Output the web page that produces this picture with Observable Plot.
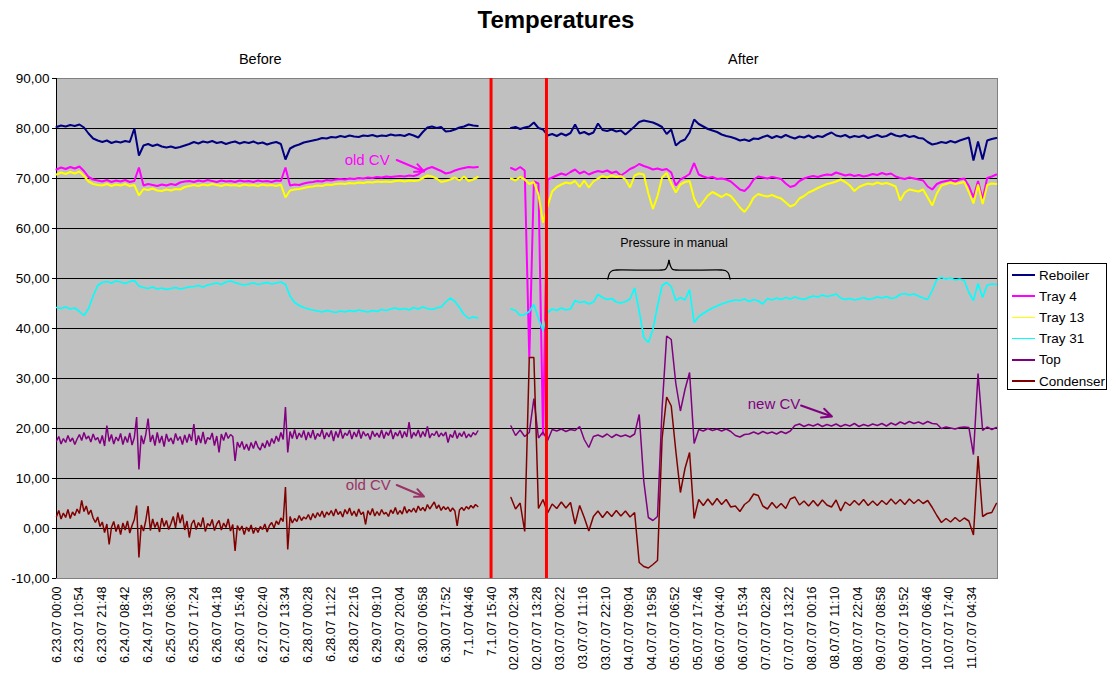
<!DOCTYPE html>
<html><head><meta charset="utf-8">
<script src="https://cdn.jsdelivr.net/npm/d3@7"></script>
<script src="https://cdn.jsdelivr.net/npm/@observablehq/plot@0.6"></script>
<style>
body{margin:0;background:#fff;font-family:"Liberation Sans",Arial,sans-serif;}
#wrap{position:relative;width:1112px;height:680px;overflow:hidden;}
#title{height:38px;line-height:40px;text-align:center;font-weight:bold;font-size:24px;color:#000;}
#legend{position:absolute;left:1007px;top:263px;width:100px;height:127px;border:1px solid #000;background:#fff;box-sizing:border-box;padding-top:0.5px;}
.row{height:21.2px;display:flex;align-items:center;font-size:13.5px;color:#000;white-space:nowrap;}
.sw{width:23px;height:1.6px;margin:0 4px 0 4px;}
</style></head>
<body><div id="wrap"><div id="title">Temperatures</div><div id="chart"></div><div id="legend"></div></div>
<script>
const seriesNames = ["Reboiler","Tray 4","Tray 13","Tray 31","Top","Condenser"];
const seriesColors = ["#000080","#FF00FF","#FFFF00","#00FFFF","#800080","#800000"];
const xLabels = ["6.23.07 00:00","6.23.07 10:54","6.23.07 21:48","6.24.07 08:42","6.24.07 19:36","6.25.07 06:30","6.25.07 17:24","6.26.07 04:18","6.26.07 15:46","6.27.07 02:40","6.27.07 13:34","6.28.07 00:28","6.28.07 11:22","6.28.07 22:16","6.29.07 09:10","6.29.07 20:04","6.30.07 06:58","6.30.07 17:52","7.1.07 04:46","7.1.07 15:40",
"02.07.07 02:34","02.07.07 13:28","03.07.07 00:22","03.07.07 11:16","03.07.07 22:10","04.07.07 09:04","04.07.07 19:58","05.07.07 06:52","05.07.07 17:46","06.07.07 04:40","06.07.07 15:34","07.07.07 02:28","07.07.07 13:22","08.07.07 00:16","08.07.07 11:10","08.07.07 22:04","09.07.07 08:58","09.07.07 19:52","10.07.07 06:46","10.07.07 17:40","11.07.07 04:34"];
const yTicks = [-10,0,10,20,30,40,50,60,70,80,90];
const periodLabels = [{x:8.9,label:"Before"},{x:30.0,label:"After"}];
const periodMarkers = [18.98, 21.40];

// x position in units of label intervals
const beforeStart = 0, afterStart = 19.85, stepCoarse = 0.2, stepFine = 0.1;

const reboilerBefore = [80.3,80.6,80.4,80.7,80.5,80.8,80.2,79.0,78.0,77.6,
77.3,77.6,77.1,77.4,77.2,77.5,77.3,80.0,74.6,76.6,
76.9,76.5,76.8,76.4,76.2,76.4,76.1,76.3,76.6,76.9,
77.3,77.0,77.4,77.2,77.5,77.1,77.3,76.9,77.2,77.4,
77.0,77.3,77.1,77.4,77.0,77.2,76.8,77.1,77.3,76.9,
73.8,76.0,76.5,76.8,77.2,77.4,77.6,77.8,78.1,78.0,
78.3,78.2,78.5,78.3,78.6,78.4,78.3,78.6,78.5,78.7,
78.4,78.6,78.5,78.8,78.6,78.7,78.5,78.9,78.6,78.2,
79.3,80.2,80.4,80.1,80.3,79.4,79.5,79.8,80.2,80.4,
80.8,80.6,80.5];
const tray4Before = [71.8,72.2,71.9,72.3,72.0,72.4,71.5,70.3,69.8,69.6,
69.4,69.7,69.3,69.6,69.4,69.7,69.3,69.5,72.2,68.6,
68.9,68.7,68.5,68.8,68.6,68.9,68.7,69.2,69.4,69.5,
69.3,69.6,69.4,69.7,69.5,69.3,69.6,69.4,69.5,69.3,
69.6,69.4,69.5,69.3,69.6,69.4,69.5,69.3,69.6,69.5,
72.2,68.6,68.8,68.7,69.0,69.2,69.3,69.5,69.4,69.7,
69.6,69.8,69.9,69.8,70.0,69.9,70.1,70.0,70.2,70.1,
70.3,70.2,70.4,70.3,70.4,70.5,70.4,70.6,70.5,70.8,
71.5,72.0,72.3,71.9,71.5,71.0,71.2,71.6,71.9,72.1,
72.3,72.2,72.3];
const tray13Before = [70.8,71.2,70.9,71.3,71.0,71.4,70.5,69.4,68.9,68.7,
68.6,68.9,68.5,68.8,68.6,68.9,68.5,68.7,66.6,67.9,
67.7,68.0,67.6,67.5,67.8,67.6,67.9,67.8,68.3,68.5,
68.7,68.5,68.8,68.6,68.9,68.7,68.5,68.8,68.6,68.7,
68.5,68.8,68.6,68.7,68.5,68.8,68.6,68.7,68.5,68.8,
66.2,67.6,67.8,67.9,68.1,68.3,68.4,68.6,68.5,68.8,
68.7,68.9,69.0,68.9,69.1,69.0,69.2,69.1,69.3,69.2,
69.4,69.3,69.4,69.3,69.5,69.6,69.4,69.6,69.5,69.6,
70.1,70.6,70.4,70.0,69.3,69.5,69.8,70.2,69.6,70.4,
69.5,69.8,70.3];
const tray31Before = [44.2,44.0,44.3,43.9,44.1,43.4,42.6,44.0,46.5,48.6,
49.2,49.4,49.1,49.5,49.3,49.0,49.4,49.6,48.5,48.2,
48.0,48.3,47.9,48.1,47.8,48.0,48.2,47.9,48.1,48.3,
48.4,48.6,48.3,48.7,48.9,49.1,48.8,49.3,49.5,49.2,
48.9,48.7,48.9,49.1,48.8,49.0,49.2,48.9,49.1,49.3,
48.8,46.5,45.2,44.6,44.2,43.9,43.7,43.5,43.3,43.6,
43.4,43.2,43.5,43.3,43.6,43.4,43.7,43.5,43.3,43.6,
43.4,43.8,43.6,43.9,44.1,43.8,44.0,43.7,44.2,43.9,
44.3,44.0,43.8,44.1,44.3,45.3,46.1,45.4,44.2,42.8,
42.0,42.3,42.1];
const topBefore = [17.5,18.4,16.9,18.0,17.2,18.6,17.4,18.1,16.8,17.9,
18.8,17.6,19.2,17.9,18.5,17.3,18.9,17.7,18.2,17.0,
18.6,16.5,20.6,17.4,18.8,16.9,18.3,17.5,19.0,16.8,
18.4,17.2,19.1,16.7,18.2,22.3,11.8,18.6,16.9,18.8,
22.0,17.3,18.7,16.6,19.2,17.1,18.5,16.4,18.9,17.4,
18.1,16.9,19.0,17.6,18.4,16.8,18.7,17.2,18.9,17.5,
20.9,16.7,18.6,17.1,19.3,16.9,18.2,17.8,19.1,16.6,
18.5,15.2,18.9,17.6,19.2,18.0,18.8,18.4,13.5,17.3,
16.2,17.4,15.8,16.9,15.6,17.2,16.0,17.5,16.3,15.7,
17.1,16.1,17.6,16.4,18.0,17.0,18.5,17.4,19.2,17.8,
24.3,15.2,19.4,18.0,19.8,17.9,19.1,18.2,19.6,17.7,
19.3,18.1,19.7,17.8,19.0,18.4,19.8,17.9,19.2,18.3,
19.6,17.5,19.4,18.2,19.9,18.0,19.1,18.6,19.7,17.9,
19.3,18.3,19.8,18.0,19.4,18.5,19.0,17.8,19.5,18.4,
19.1,18.2,19.7,18.0,19.3,18.6,19.8,17.9,19.2,18.5,
19.6,18.1,19.4,18.3,21.3,18.0,19.2,18.5,19.7,18.2,
19.4,18.4,20.4,18.1,19.0,18.6,19.5,18.3,19.1,18.5,
19.3,17.2,18.8,18.2,19.6,18.0,19.1,18.4,19.4,18.1,
18.9,18.3,19.2,18.7,19.5];
const condenserBefore = [2.4,3.6,1.9,3.1,2.2,3.8,2.0,3.3,2.6,3.9,
3.0,5.6,3.4,4.5,2.8,3.7,2.1,1.2,2.3,0.4,
1.3,-0.8,0.9,-3.2,0.2,1.4,-0.6,0.8,-1.2,1.1,
-0.3,1.5,-0.9,0.6,1.8,4.6,-5.8,0.7,-0.5,1.6,
4.5,-0.4,1.9,0.2,1.3,-0.7,2.1,0.4,1.6,-0.2,
1.0,2.4,0.1,3.2,1.1,2.8,-0.3,1.5,-1.8,0.9,
1.7,-0.2,1.2,0.3,2.2,-0.6,1.0,0.5,1.8,-0.4,
0.9,1.6,-0.3,1.1,0.2,1.9,-0.5,0.8,-4.5,0.6,
-0.4,0.5,-1.2,0.3,-0.6,0.7,-1.0,0.2,-0.8,0.4,
-0.2,0.9,-0.7,0.6,1.2,0.1,1.5,0.8,2.1,1.4,
8.3,-4.2,2.4,1.1,2.0,1.4,2.6,1.6,2.3,1.9,
2.8,1.7,3.0,2.1,3.2,2.4,3.5,2.2,3.3,2.7,
3.6,2.5,3.9,2.8,3.4,2.3,3.8,2.9,4.1,2.6,
3.5,2.4,3.9,2.8,3.3,0.8,3.6,2.7,4.0,2.5,
3.4,2.6,3.8,2.9,3.2,2.4,3.7,3.0,4.2,2.8,
3.6,2.9,4.4,3.1,3.8,3.3,4.1,3.2,4.5,3.6,
4.2,3.5,4.8,3.9,4.6,5.3,4.0,4.7,3.6,4.4,
3.8,4.3,3.4,4.1,3.5,0.5,3.7,4.2,3.6,4.4,
3.9,4.6,4.1,4.8,4.4];

const reboilerAfter = [80.1,80.3,79.9,80.2,80.4,81.2,80.1,79.8,78.6,78.9,
78.5,79.0,78.6,79.1,80.8,79.0,79.3,78.8,79.2,81.0,
79.7,79.5,79.8,79.4,79.6,78.8,79.6,80.4,81.3,81.6,
81.4,81.2,80.8,80.3,78.9,79.8,76.6,77.4,77.8,79.2,
81.8,80.9,80.4,79.9,79.6,79.3,78.8,78.5,78.3,78.0,
77.6,77.8,77.5,78.0,77.9,78.3,78.6,78.1,78.5,78.2,
78.7,78.3,78.0,78.4,78.2,78.6,78.1,78.5,78.3,78.8,
79.2,78.6,78.4,78.7,78.2,78.5,78.3,78.6,78.1,78.4,
78.7,78.3,78.5,79.0,78.6,78.4,78.7,78.3,78.5,78.1,
78.0,77.3,76.8,77.0,77.3,77.1,77.5,77.2,77.6,77.9,
78.2,73.6,77.4,73.8,77.6,77.9,78.1];
const tray4After = [72.1,71.7,72.3,71.6,34.0,69.4,69.0,18.6,69.8,70.2,
70.6,71.0,70.7,71.3,71.8,71.0,71.4,70.8,71.2,71.5,
71.3,71.6,71.1,71.4,70.6,71.2,71.9,72.3,72.9,72.5,
72.2,71.8,72.0,71.7,71.9,71.2,68.6,69.8,70.3,70.9,
73.1,70.8,70.4,70.1,70.3,69.9,70.0,69.8,69.4,68.6,
67.8,67.5,68.4,69.8,70.4,70.2,70.0,70.3,70.1,69.9,
69.0,68.3,68.6,69.5,70.0,70.3,70.5,70.3,70.6,70.8,
70.7,71.2,70.9,70.6,70.8,70.5,70.7,70.4,70.6,70.9,
70.7,71.1,70.8,71.0,70.4,70.1,69.9,70.2,70.0,69.8,
69.6,68.4,67.8,68.9,69.3,69.5,69.7,69.4,69.8,70.0,
68.5,66.2,69.5,65.8,70.1,70.4,70.8];
const tray13After = [70.0,69.6,70.3,69.8,68.9,69.3,66.8,61.2,64.5,67.4,
68.3,68.8,69.2,69.0,69.5,68.3,69.6,68.2,69.4,70.0,
70.5,70.2,70.6,70.3,70.5,69.8,68.2,70.6,71.0,70.8,
67.0,63.9,66.5,70.2,71.1,69.0,67.2,68.8,69.3,69.5,
66.0,64.2,65.4,66.6,67.3,66.8,66.3,66.9,66.5,65.4,
64.2,63.3,64.5,66.2,66.9,66.6,66.4,66.7,66.3,66.0,
65.2,64.4,64.8,66.0,66.5,67.2,67.6,68.1,68.5,68.9,
69.1,69.4,69.8,69.3,68.6,67.5,68.3,68.7,69.0,68.8,
69.2,68.9,69.1,68.8,68.4,65.6,67.2,67.8,67.6,67.4,
67.8,66.2,64.6,67.0,68.6,68.9,69.2,68.9,69.1,69.3,
67.3,65.0,68.8,64.9,68.7,69.0,68.9];
const tray31After = [43.9,43.6,42.6,42.8,43.4,44.8,42.0,39.6,43.2,43.9,
43.6,44.1,43.7,43.9,45.6,45.2,45.4,44.9,45.3,46.8,
46.2,45.8,46.0,45.3,45.1,45.4,45.9,48.1,43.5,38.2,
37.2,39.8,44.5,48.6,49.2,48.4,45.6,46.2,45.7,47.8,
41.2,42.4,43.0,43.6,44.1,44.5,44.9,45.2,45.5,45.7,
45.6,45.9,45.4,45.8,45.5,44.9,46.0,45.7,46.1,45.8,
46.2,45.9,46.3,46.0,45.8,46.2,46.5,46.3,46.7,46.4,
46.6,46.9,46.1,45.8,46.0,45.7,45.9,46.2,45.8,46.0,
46.3,46.1,46.4,46.0,46.2,46.8,47.0,46.7,46.9,46.5,
46.1,45.8,47.6,49.8,50.2,49.9,50.1,49.7,49.9,49.6,
47.2,45.6,49.0,46.2,48.7,48.9,48.8];
const topAfter = [20.5,18.6,19.7,18.4,19.2,26.0,18.1,19.3,17.6,19.8,
19.5,19.9,19.4,19.8,19.6,20.4,17.8,16.2,18.4,18.7,
18.3,18.9,18.2,18.8,18.4,18.7,18.3,18.9,22.8,9.5,
2.2,1.6,2.4,24.0,38.5,37.8,29.0,23.5,27.8,31.2,
17.0,19.8,19.5,20.0,19.6,19.9,19.5,19.9,19.4,18.6,
18.3,18.8,18.9,19.3,18.9,19.4,19.0,19.3,18.9,19.4,
19.0,19.5,20.6,20.9,20.4,20.8,20.5,20.9,20.4,20.8,
20.5,20.9,20.4,20.8,20.5,21.0,20.4,20.8,20.5,20.9,
20.6,21.0,20.5,21.1,20.7,21.3,20.9,21.4,21.0,21.3,
20.9,21.4,21.0,20.9,20.0,20.3,20.1,19.9,20.2,20.3,
20.2,14.8,31.0,19.6,20.3,19.8,20.2];
const condenserAfter = [6.2,3.9,5.1,-0.6,34.2,34.2,4.0,5.8,3.1,4.9,
4.0,5.3,4.1,5.2,0.9,4.6,2.2,-0.5,2.4,3.5,
2.2,3.4,2.4,3.6,2.5,3.5,2.3,3.2,-6.8,-7.6,
-7.9,-7.2,-6.4,18.0,26.3,24.5,15.5,7.2,12.0,15.2,
2.0,5.8,4.6,5.9,4.7,6.0,4.8,5.8,4.3,4.5,
3.4,4.8,5.5,6.9,6.6,4.5,3.9,5.2,4.1,5.0,
4.0,5.9,6.3,4.7,5.5,4.5,5.6,4.5,5.7,4.7,
4.3,5.7,3.5,5.3,4.6,5.6,4.7,5.8,4.6,5.5,
4.6,5.6,4.8,5.9,4.9,5.8,4.8,5.9,5.0,5.8,
5.0,5.6,4.2,2.6,1.2,2.0,1.3,2.2,1.4,2.1,
1.5,-1.3,14.5,2.4,3.0,3.2,5.0];

const notesCV = [
  {text:"old CV", x:13.57, y:73.6, color:"#FF00FF"},
  {text:"old CV", x:13.62, y:8.7, color:"#993366"},
  {text:"new CV", x:31.34, y:24.8, color:"#800080"}
];
const noteArrows = [
  {x1:14.86, y1:73.7, x2:16.05, y2:71.4, color:"#FF00FF"},
  {x1:14.86, y1:8.7, x2:16.05, y2:6.4, color:"#993366"},
  {x1:32.52, y1:24.6, x2:33.87, y2:22.4, color:"#800080"}
];
const pressureNote = [{text:"Pressure in manual", x:26.97, y:57.1}];
const braceLeft = [[24.08,49.9],[24.16,51.1],[24.29,51.6],[24.45,51.7],[26.45,51.7],[26.6,51.85],[26.69,52.6],[26.75,53.6]];
const braceRight = braceLeft.map(([x,y]) => [53.5 - x, y]);

function seg(values, start, step, part) {
  return values.map((v, i) => ({x: start + i * step, y: v, part}));
}
const seriesData = [
  seg(reboilerBefore, beforeStart, stepCoarse, "b").concat(seg(reboilerAfter, afterStart, stepCoarse, "a")),
  seg(tray4Before, beforeStart, stepCoarse, "b").concat(seg(tray4After, afterStart, stepCoarse, "a")),
  seg(tray13Before, beforeStart, stepCoarse, "b").concat(seg(tray13After, afterStart, stepCoarse, "a")),
  seg(tray31Before, beforeStart, stepCoarse, "b").concat(seg(tray31After, afterStart, stepCoarse, "a")),
  seg(topBefore, beforeStart, stepFine, "b").concat(seg(topAfter, afterStart, stepCoarse, "a")),
  seg(condenserBefore, beforeStart, stepFine, "b").concat(seg(condenserAfter, afterStart, stepCoarse, "a"))
];
const widths = [2, 2, 2, 1.6, 1.5, 1.5];
const braceData = braceLeft.map(([x,y]) => ({x,y,h:"l"})).concat(braceRight.reverse().map(([x,y]) => ({x,y,h:"r"})));

const chart = Plot.plot({
  width: 1112, height: 642,
  marginLeft: 56, marginRight: 115, marginTop: 40, marginBottom: 102,
  style: {fontFamily: '"Liberation Sans", Arial, sans-serif', fontSize: "12.5px", background: "transparent", color: "#000"},
  x: {domain: [0, 41.1]},
  y: {domain: [-10, 90]},
  marks: [
    Plot.frame({fill: "#C0C0C0", stroke: "#808080"}),
    Plot.ruleY(yTicks.filter(v => v > -10 && v < 90), {stroke: "#000", strokeWidth: 1}),
    Plot.ruleX([0], {stroke: "#000"}),
    ...seriesData.map((d, i) => Plot.line(d, {x: "x", y: "y", z: "part", stroke: seriesColors[i], strokeWidth: widths[i], strokeLinejoin: "miter"})),
    Plot.ruleX(periodMarkers, {stroke: "#FF0000", strokeWidth: 3}),
    Plot.text(notesCV, {x: "x", y: "y", text: "text", fill: "color", fontSize: 15}),
    Plot.arrow(noteArrows, {x1: "x1", y1: "y1", x2: "x2", y2: "y2", stroke: "color", strokeWidth: 2, headLength: 9, headAngle: 50}),
    Plot.text(pressureNote, {x: "x", y: "y", text: "text", fill: "#000", fontSize: 12.5}),
    Plot.line(braceData, {x: "x", y: "y", z: "h", curve: "catmull-rom", stroke: "#000", strokeWidth: 1.3}),
    Plot.text(periodLabels, {x: "x", text: "label", frameAnchor: "top", lineAnchor: "middle", dy: -19, fontSize: 14.5, fill: "#000"}),
    Plot.axisY({ticks: yTicks, tickFormat: d => d.toFixed(2).replace(".", ","), tickSize: 4, tickPadding: 3, fontSize: 13.5, stroke: "#000"}),
    Plot.axisX({ticks: d3.range(xLabels.length), tickFormat: i => xLabels[i], tickRotate: -90, tickSize: 0, tickPadding: 8, fontSize: 12.5})
  ]
});
document.getElementById("chart").appendChild(chart);

const legend = document.getElementById("legend");
seriesNames.forEach((name, i) => {
  const row = document.createElement("div");
  row.className = "row";
  const sw = document.createElement("span");
  sw.className = "sw";
  sw.style.background = seriesColors[i];
  row.appendChild(sw);
  row.appendChild(document.createTextNode(name));
  legend.appendChild(row);
});
</script></body></html>
